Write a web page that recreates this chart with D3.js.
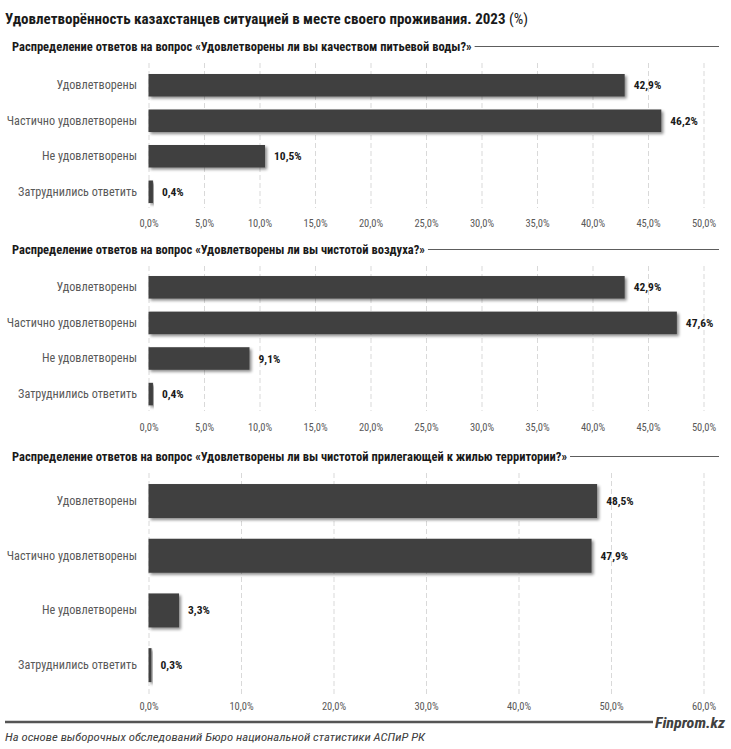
<!DOCTYPE html>
<html><head><meta charset="utf-8">
<script src="https://cdn.jsdelivr.net/npm/d3@7"></script>
<style>
body{margin:0;background:#fff;}
svg{display:block;}
text{font-family:"Liberation Sans Narrow","Roboto Condensed","Liberation Sans",sans-serif;}
</style></head>
<body><div id="chart"></div>
<script>
const categories = ["Удовлетворены","Частично удовлетворены","Не удовлетворены","Затруднились ответить"];
const waterValues = [42.9, 46.2, 10.5, 0.4];
const airValues = [42.9, 47.6, 9.1, 0.4];
const territoryValues = [48.5, 47.9, 3.3, 0.3];
const ticks1 = [0,5,10,15,20,25,30,35,40,45,50];
const ticks3 = [0,10,20,30,40,50,60];
const mainTitle = "Удовлетворённость казахстанцев ситуацией в месте своего проживания. 2023";
const subtitles = [
 "Распределение ответов на вопрос «Удовлетворены ли вы качеством питьевой воды?»",
 "Распределение ответов на вопрос «Удовлетворены ли вы чистотой воздуха?»",
 "Распределение ответов на вопрос «Удовлетворены ли вы чистотой прилегающей к жилью территории?»"
];
const sourceText = "На основе выборочных обследований Бюро национальной статистики АСПиР РК";
const brand = "Finprom.kz";

const W=731,H=749;
const svg=d3.select("#chart").append("svg").attr("width",W).attr("height",H);
const defs=svg.append("defs");
const f=defs.append("filter").attr("id","sh").attr("x","-10%").attr("y","-20%").attr("width","130%").attr("height","160%");
f.append("feGaussianBlur").attr("in","SourceAlpha").attr("stdDeviation",1.6).attr("result","b");
f.append("feOffset").attr("in","b").attr("dx",2).attr("dy",2).attr("result","o");
f.append("feComponentTransfer").attr("in","o").attr("result","o2").append("feFuncA").attr("type","linear").attr("slope",0.45);
const fm=f.append("feMerge"); fm.append("feMergeNode").attr("in","o2"); fm.append("feMergeNode").attr("in","SourceGraphic");

const fmt=v=>d3.format(".1f")(v).replace(".",",")+"%";

// main title
const t=svg.append("text").attr("x",5).attr("y",24).attr("font-size",15).attr("fill","#1a1a1a");
t.append("tspan").attr("font-weight","bold").text(mainTitle+" ");
t.append("tspan").text("(%)");

function subtitle(y,txt){
  const s=svg.append("text").attr("x",12).attr("y",y).attr("font-size",12.5).attr("font-weight","bold").attr("fill","#1a1a1a").text(txt);
  const w=s.node().getComputedTextLength();
  svg.append("line").attr("x1",12+w+3).attr("x2",719).attr("y1",y-4.5).attr("y2",y-4.5).attr("stroke","#333").attr("stroke-width",0.8);
}

function panel(opt){
  const x=d3.scaleLinear().domain(opt.domain).range([148.5,703.5]);
  const y=d3.scaleBand().domain(categories).range([opt.top,opt.top+4*opt.step]).paddingInner(opt.pi).paddingOuter(opt.pi/2);
  const g=svg.append("g");
  g.selectAll(".grid").data(opt.ticks).join("line")
   .attr("x1",d=>x(d)+0.5).attr("x2",d=>x(d)+0.5)
   .attr("y1",opt.gTop).attr("y2",opt.gBot)
   .attr("stroke","#d9d9d9").attr("stroke-width",1).attr("stroke-dasharray","5,3");
  const ax=d3.axisBottom(x).tickValues(opt.ticks).tickFormat(d=>fmt(d)).tickSize(0).tickPadding(0);
  const axg=g.append("g").attr("transform",`translate(0,${opt.tickY})`).call(ax);
  axg.select(".domain").remove();
  axg.selectAll("text").attr("font-size",10.5).attr("fill","#595959").attr("font-family","Liberation Sans Narrow, sans-serif").attr("dy","0.35em").attr("y",0);
  g.selectAll(".bar").data(opt.values).join("rect")
   .attr("x",x(0)).attr("y",(d,i)=>y(categories[i]))
   .attr("width",d=>Math.max(x(d)-x(0),3)).attr("height",y.bandwidth())
   .attr("fill","#404040").attr("filter","url(#sh)");
  g.selectAll(".val").data(opt.values).join("text")
   .attr("x",d=>Math.max(x(d),x(0)+3)+9).attr("y",(d,i)=>y(categories[i])+y.bandwidth()/2)
   .attr("dy","0.35em").attr("font-size",11.5).attr("font-weight","bold").attr("fill","#1a1a1a").text(fmt);
  const ya=d3.axisLeft(y).tickSize(0).tickPadding(0);
  const yg=g.append("g").attr("transform","translate(137,0)").call(ya);
  yg.select(".domain").remove();
  yg.selectAll("text").attr("font-size",12.2).attr("fill","#595959").attr("font-family","Liberation Sans Narrow, sans-serif");
}

subtitle(51,subtitles[0]);
panel({values:waterValues,domain:[0,50],ticks:ticks1,top:67.5,step:35.5,pi:0.366,gTop:63,gBot:208,tickY:223});
subtitle(254,subtitles[1]);
panel({values:airValues,domain:[0,50],ticks:ticks1,top:269.5,step:35.6,pi:0.366,gTop:266,gBot:411,tickY:427});
subtitle(461,subtitles[2]);
panel({values:territoryValues,domain:[0,60],ticks:ticks3,top:473.7,step:54.7,pi:0.378,gTop:473,gBot:694,tickY:706});

// footer
svg.append("line").attr("x1",5).attr("x2",653).attr("y1",722).attr("y2",722).attr("stroke","#555").attr("stroke-width",2.5);
svg.append("text").attr("x",655).attr("y",728).attr("font-size",14).attr("font-weight","bold").attr("font-style","italic").attr("fill","#404040")
  .attr("textLength",70).attr("lengthAdjust","spacingAndGlyphs").text(brand);
svg.append("text").attr("x",5).attr("y",741).attr("font-size",11.5).attr("font-style","italic").attr("fill","#404040")
  .attr("textLength",420).attr("lengthAdjust","spacingAndGlyphs").text(sourceText);
</script></body></html>
